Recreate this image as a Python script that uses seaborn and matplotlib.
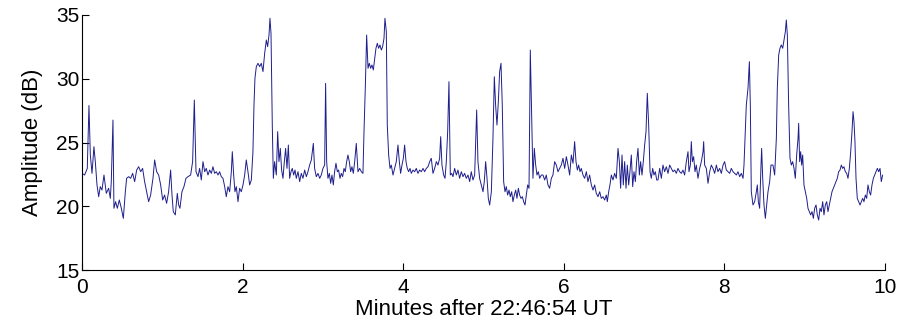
"""Amplitude trace, minutes after 22:46:54 UT."""

import matplotlib
matplotlib.use("Agg")
import matplotlib.pyplot as plt
import pandas as pd
import seaborn as sns

# time (minutes) and amplitude (dB) in chunks
t_0_to_1 = [0.000, 0.033, 0.066, 0.087, 0.104, 0.125, 0.149, 0.166, 0.187, 0.208,
            0.228, 0.249, 0.274, 0.303, 0.332, 0.353, 0.365, 0.386, 0.398, 0.419,
            0.440, 0.465, 0.490, 0.515, 0.540, 0.556, 0.581, 0.606, 0.631, 0.656,
            0.681, 0.706, 0.731, 0.755, 0.780, 0.805, 0.830, 0.855, 0.884, 0.905,
            0.930, 0.955, 0.980, 1.005, 1.029, 1.054, 1.079, 1.104, 1.121, 1.137,
            1.162, 1.187, 1.204, 1.220, 1.245, 1.270, 1.295, 1.320, 1.353, 1.378,
            1.399, 1.420]
db_0_to_1 = [22.58, 22.45, 22.97, 27.9, 24.02, 22.58, 24.67, 23.50, 21.67, 20.75,
             21.54, 21.27, 22.45, 21.01, 21.41, 20.62, 21.93, 26.76, 19.84, 20.36,
             19.84, 20.49, 19.84, 19.05, 21.14, 22.19, 22.32, 22.19, 22.58, 21.93,
             22.84, 23.10, 22.71, 22.97, 21.93, 21.14, 20.36, 20.88, 22.19, 23.63,
             22.71, 22.45, 21.67, 20.49, 20.88, 20.23, 21.14, 22.84, 20.88, 19.58,
             19.32, 21.01, 20.10, 19.84, 21.14, 21.54, 22.19, 22.32, 22.45, 23.50,
             28.33, 22.71]

t_1_to_3 = [1.445, 1.465, 1.486, 1.507, 1.528, 1.548, 1.569, 1.590, 1.611, 1.631,
            1.652, 1.673, 1.694, 1.714, 1.735, 1.756, 1.777, 1.797, 1.818, 1.839,
            1.860, 1.872, 1.889, 1.905, 1.922, 1.943, 1.963, 1.984, 2.005, 2.026,
            2.046, 2.067, 2.088, 2.109, 2.129, 2.142, 2.154, 2.171, 2.192, 2.213,
            2.233, 2.254, 2.275, 2.296, 2.312, 2.329, 2.341, 2.354, 2.370, 2.383,
            2.399, 2.420, 2.437, 2.453, 2.470, 2.486, 2.503, 2.520, 2.536, 2.553,
            2.570, 2.586, 2.603, 2.619, 2.636, 2.653, 2.669, 2.690, 2.711, 2.731,
            2.752, 2.773, 2.794, 2.814, 2.835, 2.856]
db_1_to_3 = [22.32, 22.97, 22.06, 23.50, 22.71, 22.97, 22.45, 22.84, 22.58, 23.10,
             22.58, 22.71, 22.45, 22.71, 22.32, 22.19, 21.54, 20.75, 21.54, 21.14,
             22.71, 24.28, 22.45, 21.14, 21.54, 20.36, 21.41, 21.14, 21.67, 22.45,
             23.63, 22.71, 21.67, 22.06, 24.28, 27.94, 30.03, 30.95, 31.21, 30.95,
             31.21, 30.56, 31.99, 33.04, 32.52, 33.43, 34.74, 33.56, 26.37, 22.19,
             23.50, 22.45, 25.85, 23.50, 24.54, 22.84, 22.19, 23.50, 24.54, 22.97,
             24.80, 22.19, 22.71, 22.97, 22.45, 22.84, 22.19, 22.71, 21.93, 22.58,
             22.19, 22.84, 22.32, 22.71, 23.23, 23.63]

t_3_to_4 = [2.881, 2.897, 2.918, 2.939, 2.960, 2.980, 3.001, 3.022, 3.034, 3.047,
            3.063, 3.080, 3.097, 3.113, 3.130, 3.146, 3.163, 3.180, 3.196, 3.213,
            3.229, 3.246, 3.263, 3.279, 3.296, 3.312, 3.329, 3.346, 3.362, 3.379,
            3.396, 3.416, 3.437, 3.458, 3.479, 3.499, 3.512, 3.528, 3.545, 3.562,
            3.578, 3.595, 3.611, 3.628, 3.645, 3.661, 3.678, 3.694, 3.711, 3.728,
            3.744, 3.761, 3.773, 3.790, 3.802, 3.819, 3.836, 3.852, 3.873, 3.894,
            3.914, 3.935, 3.952, 3.968, 3.985, 4.002, 4.018, 4.035, 4.051, 4.068,
            4.085, 4.101, 4.122, 4.143, 4.163, 4.184, 4.205, 4.226, 4.247, 4.267,
            4.288]
db_3_to_4 = [24.93, 22.97, 22.32, 22.58, 22.19, 22.45, 22.97, 23.23, 29.64, 23.50,
             22.19, 22.58, 21.80, 22.45, 21.67, 22.71, 23.37, 22.71, 22.84, 22.19,
             22.58, 22.32, 22.97, 22.71, 23.50, 24.02, 23.50, 22.71, 23.10, 22.58,
             23.50, 24.93, 22.71, 22.97, 22.71, 22.58, 25.85, 29.25, 33.43, 30.82,
             31.21, 30.82, 31.08, 30.69, 31.60, 32.39, 32.78, 32.39, 32.65, 32.25,
             32.52, 33.17, 34.74, 33.69, 26.37, 24.02, 22.97, 23.23, 22.45, 22.97,
             23.50, 24.80, 23.50, 22.58, 23.23, 23.76, 24.80, 23.50, 22.97, 22.71,
             22.97, 22.58, 22.84, 22.71, 22.97, 22.58, 22.84, 22.71, 22.97, 22.71,
             22.97]

t_4_to_6 = [4.309, 4.330, 4.350, 4.371, 4.392, 4.413, 4.433, 4.454, 4.467, 4.483,
            4.504, 4.521, 4.537, 4.554, 4.570, 4.587, 4.604, 4.620, 4.641, 4.662,
            4.682, 4.703, 4.724, 4.745, 4.765, 4.786, 4.807, 4.828, 4.848, 4.869,
            4.890, 4.902, 4.915, 4.931, 4.952, 4.973, 4.994, 5.010, 5.027, 5.044,
            5.060, 5.077, 5.098, 5.118, 5.135, 5.151, 5.168, 5.185, 5.201, 5.218,
            5.234, 5.251, 5.268, 5.284, 5.301, 5.318, 5.334, 5.351, 5.367, 5.384,
            5.401, 5.417, 5.434, 5.450, 5.467, 5.484, 5.500, 5.517, 5.533, 5.550,
            5.567, 5.583, 5.600, 5.616, 5.633, 5.650, 5.666, 5.683, 5.700, 5.720]
db_4_to_6 = [23.10, 23.50, 23.76, 22.58, 22.97, 23.50, 23.23, 23.76, 25.46, 23.23,
             22.45, 22.19, 23.50, 25.85, 29.77, 22.45, 22.58, 22.32, 22.97, 22.45,
             22.84, 22.19, 22.71, 22.32, 22.58, 22.19, 22.45, 21.93, 22.71, 22.06,
             22.45, 24.80, 27.55, 23.50, 22.19, 21.67, 21.14, 21.93, 23.50, 22.19,
             20.62, 20.10, 21.14, 25.33, 30.16, 27.94, 26.37, 28.20, 30.56, 31.21,
             27.94, 21.93, 21.14, 21.54, 20.88, 21.27, 20.75, 21.14, 20.36, 20.88,
             21.27, 20.62, 21.41, 20.88, 20.62, 20.75, 20.36, 20.10, 20.88, 21.67,
             21.41, 32.25, 27.16, 22.19, 24.54, 23.23, 22.45, 22.71, 22.19, 22.45]

t_6_to_7 = [5.741, 5.762, 5.782, 5.803, 5.824, 5.845, 5.865, 5.886, 5.907, 5.928,
            5.948, 5.969, 5.990, 6.011, 6.032, 6.052, 6.073, 6.094, 6.115, 6.135,
            6.152, 6.169, 6.185, 6.202, 6.218, 6.239, 6.260, 6.281, 6.301, 6.322,
            6.343, 6.364, 6.384, 6.405, 6.426, 6.447, 6.467, 6.488, 6.509, 6.530,
            6.542, 6.559, 6.575, 6.592, 6.613, 6.633, 6.654, 6.675, 6.692, 6.708,
            6.725, 6.741, 6.758, 6.775, 6.791, 6.808, 6.824, 6.841, 6.858, 6.874,
            6.891, 6.907, 6.924, 6.941, 6.957, 6.974, 6.990, 7.007, 7.024, 7.040,
            7.057, 7.074, 7.090, 7.107, 7.123, 7.140, 7.157]
db_6_to_7 = [22.45, 22.06, 22.45, 21.67, 21.41, 22.19, 22.45, 23.50, 23.23, 22.71,
             22.97, 23.23, 23.76, 22.97, 23.89, 23.23, 22.45, 24.02, 23.37, 25.07,
             23.50, 22.84, 23.23, 22.71, 22.97, 22.45, 22.19, 22.71, 21.93, 22.45,
             21.67, 21.27, 21.67, 21.01, 20.75, 21.14, 20.62, 20.75, 20.49, 20.88,
             20.36, 21.14, 21.67, 22.45, 22.06, 22.58, 22.19, 24.54, 23.50, 21.41,
             24.02, 21.67, 23.50, 21.41, 23.23, 21.67, 22.71, 24.02, 21.54, 22.71,
             21.93, 23.50, 24.54, 22.45, 23.50, 22.45, 23.50, 24.80, 25.85, 28.86,
             26.37, 22.71, 22.19, 22.97, 22.45, 22.71, 22.06]

t_7_to_8 = [7.173, 7.194, 7.215, 7.235, 7.256, 7.277, 7.298, 7.318, 7.339, 7.360,
            7.381, 7.401, 7.422, 7.443, 7.464, 7.484, 7.505, 7.526, 7.547, 7.559,
            7.576, 7.588, 7.601, 7.617, 7.634, 7.650, 7.671, 7.692, 7.713, 7.734,
            7.742, 7.754, 7.775, 7.796, 7.817, 7.837, 7.858, 7.879, 7.900, 7.920,
            7.941, 7.962, 7.983, 8.003, 8.024, 8.045, 8.066, 8.086, 8.107, 8.128,
            8.149, 8.169, 8.190, 8.211, 8.232, 8.244, 8.257, 8.273, 8.294, 8.311,
            8.323, 8.335, 8.356, 8.377, 8.398, 8.410, 8.423, 8.439, 8.456, 8.464,
            8.477, 8.493, 8.510, 8.526, 8.543, 8.564, 8.580]
db_7_to_8 = [22.06, 22.97, 22.19, 23.23, 22.71, 23.10, 22.58, 23.23, 22.97, 22.71,
             22.84, 22.58, 22.97, 22.71, 22.58, 22.84, 22.45, 23.50, 24.28, 22.71,
             23.23, 25.07, 23.50, 23.89, 22.71, 23.23, 22.19, 22.97, 23.50, 24.28,
             25.07, 23.23, 22.97, 21.80, 22.71, 23.23, 22.97, 22.58, 23.23, 22.71,
             22.97, 22.58, 23.23, 23.50, 22.84, 22.71, 22.58, 22.97, 22.71, 22.58,
             22.45, 22.71, 22.32, 22.58, 22.19, 23.23, 25.33, 27.94, 29.25, 31.34,
             27.94, 21.14, 20.10, 20.36, 21.14, 21.67, 20.36, 19.84, 23.23, 24.54,
             22.19, 20.10, 19.05, 20.10, 21.14, 21.93, 23.23]

t_8_to_10 = [8.605, 8.626, 8.647, 8.659, 8.676, 8.692, 8.709, 8.726, 8.742, 8.759,
             8.771, 8.784, 8.800, 8.817, 8.834, 8.850, 8.867, 8.883, 8.900, 8.917,
             8.925, 8.937, 8.950, 8.962, 8.975, 8.991, 9.008, 9.025, 9.041, 9.058,
             9.074, 9.091, 9.108, 9.124, 9.141, 9.157, 9.174, 9.191, 9.207, 9.224,
             9.240, 9.257, 9.274, 9.290, 9.307, 9.323, 9.340, 9.357, 9.373, 9.390,
             9.406, 9.423, 9.440, 9.456, 9.473, 9.489, 9.506, 9.523, 9.539, 9.556,
             9.573, 9.589, 9.602, 9.614, 9.626, 9.639, 9.655, 9.672, 9.689, 9.705,
             9.722, 9.738, 9.755, 9.772, 9.788, 9.805, 9.821, 9.838, 9.855, 9.871,
             9.888, 9.905, 9.921, 9.938, 9.954, 9.971]
db_8_to_10 = [23.23, 22.45, 25.33, 29.25, 31.86, 32.39, 32.65, 32.39, 33.04, 33.69,
              34.61, 33.43, 27.94, 23.76, 23.23, 23.50, 22.97, 22.19, 24.02, 25.33,
              26.50, 23.50, 24.28, 23.23, 24.02, 21.67, 21.14, 20.62, 19.84, 19.58,
              19.32, 19.58, 19.05, 19.84, 20.10, 19.32, 18.92, 19.84, 19.58, 20.36,
              19.32, 20.10, 20.36, 19.58, 20.10, 20.62, 21.14, 21.41, 21.67, 21.93,
              22.19, 22.71, 22.84, 23.23, 22.97, 23.10, 22.71, 22.58, 22.19, 22.97,
              24.28, 25.85, 27.42, 26.63, 25.07, 22.19, 20.62, 20.36, 20.10, 20.36,
              20.62, 20.36, 20.88, 20.62, 21.67, 21.14, 20.88, 21.67, 22.19, 22.45,
              22.71, 22.97, 22.71, 22.97, 21.93, 22.45]

x_ticks = [0, 2, 4, 6, 8, 10]
y_ticks = [15, 20, 25, 30, 35]

minutes = t_0_to_1 + t_1_to_3 + t_3_to_4 + t_4_to_6 + t_6_to_7 + t_7_to_8 + t_8_to_10
amplitude = (db_0_to_1 + db_1_to_3 + db_3_to_4 + db_4_to_6 + db_6_to_7
             + db_7_to_8 + db_8_to_10)
df = pd.DataFrame({"minutes": minutes, "amplitude": amplitude})

sns.set_style("ticks")
plt.rcParams["font.family"] = ["Liberation Sans", "DejaVu Sans"]

fig = plt.figure(figsize=(9.19, 3.34), dpi=100)
ax = fig.add_axes([0.0892, 0.1916, 0.8738, 0.7635])
sns.lineplot(data=df, x="minutes", y="amplitude", estimator=None, sort=False,
             color="#1e1e8c", linewidth=0.7, ax=ax)

ax.set_xlim(0, 10)
ax.set_ylim(15, 35)
ax.set_xticks(x_ticks)
ax.set_yticks(y_ticks)
ax.tick_params(direction="in", length=5, width=0.8, colors="black",
               labelcolor="black", labelsize=15)
ax.tick_params(axis="x", pad=6)
ax.tick_params(axis="y", pad=2)
for side in ("top", "right"):
    ax.spines[side].set_visible(False)
for side in ("left", "bottom"):
    ax.spines[side].set_linewidth(0.8)
    ax.spines[side].set_color("black")
ax.set_xlabel("Minutes after 22:46:54 UT", fontsize=16, color="black", labelpad=1)
ax.set_ylabel("Amplitude (dB)", fontsize=16, color="black", labelpad=9)

fig.savefig("out.png", dpi=100, facecolor="white")
